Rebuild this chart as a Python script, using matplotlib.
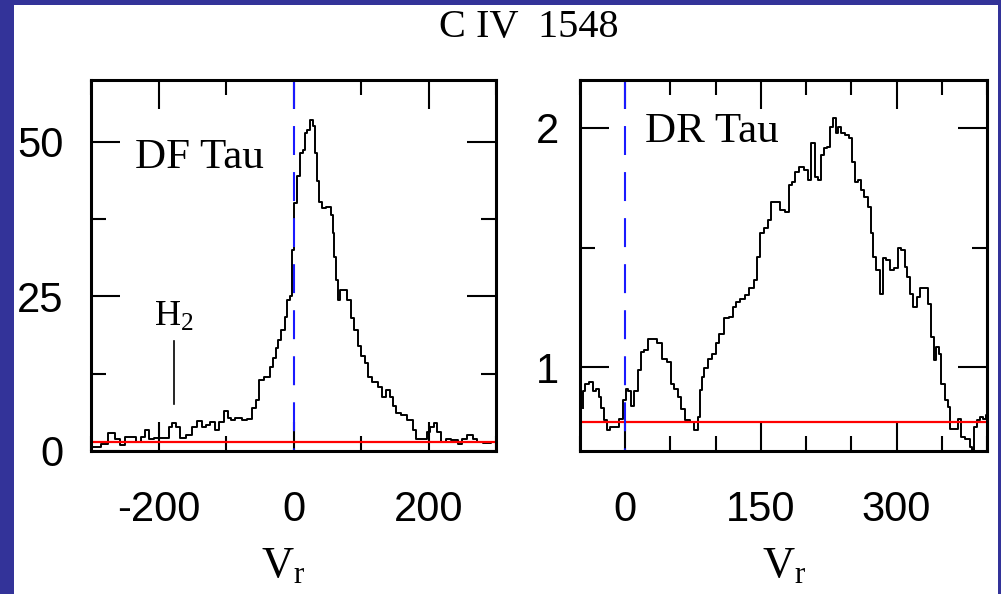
import matplotlib.pyplot as plt
from matplotlib.patches import Rectangle
from matplotlib.ticker import MultipleLocator
import numpy as np

plt.rcParams['axes.unicode_minus'] = False
plt.rcParams['mathtext.fontset'] = 'custom'
plt.rcParams['mathtext.rm'] = 'Liberation Serif'
plt.rcParams['mathtext.it'] = 'Liberation Serif:italic'

# C IV 1548 profile of DF Tau (velocity in km/s, flux)
df_vel = [-299, -290, -280, -270, -260, -253, -245, -238, -230, -223, -216, -213,
          -200, -186, -183, -176, -171, -164, -156, -146, -139, -132, -127, -119,
          -114, -107, -100, -95, -90, -82, -72, -65, -58, -53, -48, -38, -33, -28,
          -25, -20, -16, -10, -8, -3, 0, 2, 7, 11, 17, 18, 23, 27, 31, 33, 36, 39,
          44, 53, 57, 59, 62, 64, 67, 71, 77, 82, 87, 92, 98, 103, 108, 113, 121,
          128, 133, 140, 145, 150, 155, 163, 173, 180, 183, 195, 200, 205, 210,
          215, 222, 229, 239, 247, 252, 262, 269, 276, 286, 299]
df_flux = [0.7, 0.6, 1.2, 2.9, 2.0, 1.0, 2.3, 2.3, 1.5, 2.3, 3.4, 2.0,
           2.1, 2.1, 3.9, 4.5, 3.9, 2.1, 2.6, 3.9, 4.9, 3.9, 4.2, 4.7,
           3.4, 4.7, 6.5, 5.3, 5.0, 5.3, 5.0, 5.1, 6.9, 8.3, 11.5, 12.0, 13.6, 15.0,
           16.6, 18.0, 19.6, 21.7, 24.4, 25.0, 32.5, 40.1, 44.4, 48.2, 48.7, 51.4, 51.9, 53.6, 52.5, 48.2, 43.6, 40.3,
           39.3, 39.5, 38.2, 35.2, 31.4, 27.7, 24.4, 26.0, 26.0, 24.4, 21.5, 19.5, 17.0, 15.4, 14.2, 12.0, 11.2,
           10.4, 8.8, 9.9, 8.8, 7.2, 6.1, 5.8, 5.0, 3.4, 2.0, 2.0, 3.0, 3.9, 4.5,
           3.1, 1.5, 2.0, 1.8, 1.2, 2.0, 2.6, 2.0, 1.5, 1.3, 1.5]
df_cont = 1.5

# C IV 1548 profile of DR Tau
dr_vel = [-47, -46, -42, -38, -34, -31, -28, -25, -21, -19, -14, -8.5, -5, -1, 2, 4, 8,
          12, 15.5, 19, 23, 26.5, 32, 37.5, 43, 49, 52.5, 56, 60, 63.5, 69, 74.5, 78,
          82, 84, 86, 89, 93, 98.5, 102, 106, 111.5, 117, 121, 124.5, 130, 135, 139,
          144.7, 147.6, 150.2, 155.8, 159.4, 163.8, 168.6, 174.1, 179.7, 181.5, 187.1,
          188.9, 194.5, 200, 203.7, 208.1, 211.1, 214.8, 218.4, 221.4, 225.8, 227.7,
          231.4, 233.9, 236.9, 240.6, 246.1, 249.8, 252.4, 256, 259, 262.7, 266.4,
          270.1, 273.1, 275.6, 279.3, 283.2, 287, 290.7, 294.4, 299.9, 303.6, 307.3,
          310.3, 313.9, 316.6, 320.3, 323.9, 327.6, 333.1, 336.8, 339.7, 342.3, 346,
          347.7, 351.3, 355, 358.7, 360.5, 366, 369.7, 373.4, 379, 382.7, 384.5, 387.5,
          390, 393.8, 397.4, 400]
dr_flux = [0.83, 0.90, 0.93, 0.94, 0.90, 0.91, 0.876, 0.83, 0.78, 0.736, 0.75, 0.75, 0.785, 0.862, 0.91, 0.90, 0.84,
           0.90, 0.987, 1.064, 1.07, 1.116, 1.116, 1.10, 1.036, 1.022, 0.93, 0.91, 0.876, 0.827, 0.778, 0.771, 0.736,
           0.792, 0.904, 0.96, 0.995, 1.036, 1.057, 1.10, 1.14, 1.204, 1.21, 1.25, 1.273, 1.287, 1.30, 1.329,
           1.364, 1.46, 1.559, 1.58, 1.615, 1.692, 1.692, 1.657, 1.65, 1.76, 1.775,
           1.817, 1.838, 1.824, 1.782, 1.936, 1.796, 1.782, 1.887, 1.915, 1.922, 2.005,
           2.04, 1.978, 2.005, 1.978, 1.971, 1.957, 1.859, 1.775, 1.782, 1.74, 1.713,
           1.671, 1.56, 1.46, 1.406, 1.308, 1.455, 1.448, 1.406, 1.413, 1.497, 1.49,
           1.42, 1.378, 1.308, 1.252, 1.294, 1.329, 1.329, 1.266, 1.127, 1.03, 1.085,
           1.057, 0.932, 0.862, 0.834, 0.743, 0.743, 0.785, 0.708, 0.70, 0.667, 0.653, 0.75,
           0.778, 0.792, 0.785, 0.80]
dr_cont = 0.77

# H2 line marker on the DF Tau panel
h2_vel = -177
h2_span = [7.6, 17.8]

navy = '#333399'
blue = '#1a1aff'
sans = 'Liberation Sans'
serif = 'Liberation Serif'

fig = plt.figure(figsize=(10.01, 5.94), dpi=100, facecolor=navy)
fig.patches.append(Rectangle((14 / 1001, 0), 984 / 1001, 589 / 594,
                             transform=fig.transFigure, facecolor='white',
                             edgecolor='none', zorder=-10))

ax1 = fig.add_axes([91 / 1001, 143 / 594, 405 / 1001, 371 / 594])
ax2 = fig.add_axes([580 / 1001, 143 / 594, 407 / 1001, 371 / 594])


def style_axes(ax, ypad):
    ax.set_facecolor('white')
    for s in ax.spines.values():
        s.set_linewidth(2.2)
    ax.tick_params(which='both', direction='in', top=True, right=True,
                   width=1.5, colors='black')
    ax.tick_params(which='major', length=21, labelsize=30, pad=28)
    ax.tick_params(which='minor', length=11)
    ax.tick_params(axis='y', which='major', pad=ypad)
    for lab in ax.get_xticklabels() + ax.get_yticklabels():
        lab.set_fontfamily(sans)


# DF Tau panel
ax1.plot(df_vel, df_flux, color='black', lw=1.4, drawstyle='steps-mid')
ax1.axhline(df_cont, color='red', lw=1.6)
ax1.plot([0, 0], [60, 0], color=blue, lw=1.5, dashes=(13.9, 8.2))
ax1.plot([h2_vel, h2_vel], h2_span, color='black', lw=1.2)
ax1.set_xlim(-300, 300)
ax1.set_ylim(0, 60)
ax1.xaxis.set_major_locator(MultipleLocator(200))
ax1.xaxis.set_minor_locator(MultipleLocator(100))
ax1.yaxis.set_major_locator(MultipleLocator(25))
ax1.yaxis.set_minor_locator(MultipleLocator(12.5))
style_axes(ax1, 20)
ax1.text(-235, 45.8, 'DF Tau', fontsize=31, family=serif, va='baseline')
ax1.text(-207, 20.2, 'H$_2$', fontsize=26, family=serif, va='baseline')
ax1.text(0.474, -0.34, r'$\mathrm{V_r}$', transform=ax1.transAxes, fontsize=32,
         ha='center', va='baseline')

# DR Tau panel
ax2.plot(dr_vel, dr_flux, color='black', lw=1.4, drawstyle='steps-mid')
ax2.axhline(dr_cont, color='red', lw=1.6)
ax2.plot([0, 0], [2.2, 0.65], color=blue, lw=1.5, dashes=(13.9, 8.2))
ax2.set_xlim(-50, 400)
ax2.set_ylim(0.65, 2.2)
ax2.xaxis.set_major_locator(MultipleLocator(150))
ax2.xaxis.set_minor_locator(MultipleLocator(50))
ax2.yaxis.set_major_locator(MultipleLocator(1))
ax2.yaxis.set_minor_locator(MultipleLocator(0.5))
style_axes(ax2, 15)
ax2.text(22, 1.94, 'DR Tau', fontsize=31, family=serif, va='baseline')
ax2.text(0.501, -0.34, r'$\mathrm{V_r}$', transform=ax2.transAxes, fontsize=32,
         ha='center', va='baseline')

fig.text(529 / 1001, 1 - 28 / 594, 'C IV  1548', fontsize=29, family=serif,
         ha='center', va='center')

fig.savefig('out.png', dpi=100, facecolor=fig.get_facecolor())
